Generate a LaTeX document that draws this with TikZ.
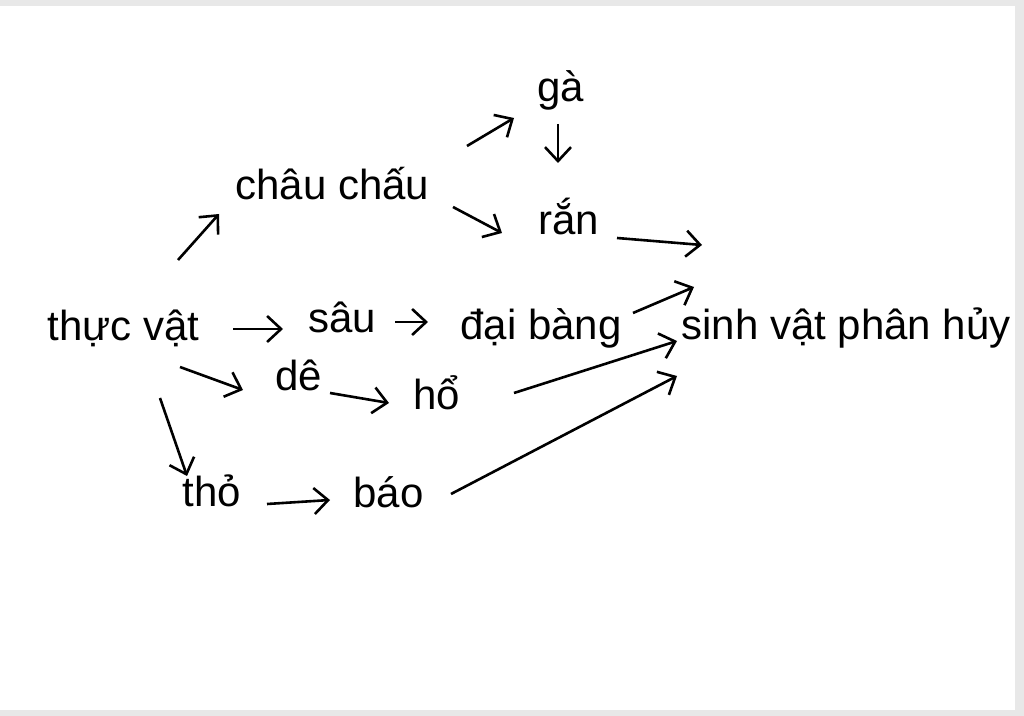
\documentclass[tikz,border=0pt]{standalone}
\usepackage{fontspec}
\setmainfont{Liberation Sans}
\usetikzlibrary{arrows.meta}
\definecolor{framegray}{HTML}{E8E8E8}

\begin{document}
\begin{tikzpicture}[x=0.5pt,y=-0.5pt,
    sp/.style={anchor=base west,inner sep=0pt,font=\fontsize{21}{25}\selectfont},
    arr/.style={line width=1.3pt,-{Straight Barb[length=7pt,width=13pt,line width=1.3pt]}}]
    \useasboundingbox (0,0) rectangle (1024,716);
    \fill[framegray] (0,0) rectangle (1024,6);
    \fill[framegray] (1015,0) rectangle (1024,716);
    \fill[framegray] (0,710) rectangle (1024,716);
    % loai
    \node[sp] (thuc) at (47,341) {thực vật};
    \node[sp] (chau) at (235,200) {châu chấu};
    \node[sp] (ga) at (537,102) {gà};
    \node[sp] (ran) at (538,235) {rắn};
    \node[sp] (sau) at (308,333) {sâu};
    \node[sp] (dai) at (460,340) {đại bàng};
    \node[sp] (svph) at (681,340) {sinh vật phân hủy};
    \node[sp] (de) at (275,391) {dê};
    \node[sp] (ho) at (413,410) {hổ};
    \node[sp] (tho) at (182,507) {thỏ};
    \node[sp] (bao) at (353,508) {báo};
    % mui ten
    \draw[arr] ([shift={(131,-81)}]thuc.base west) -- ([shift={(-16,14)}]chau.base west);
    \draw[arr] ([shift={(232,-54)}]chau.base west) -- ([shift={(-23,16)}]ga.base west);
    \draw[arr] ([shift={(218,7)}]chau.base west) -- ([shift={(-36,-2)}]ran.base west);
    \draw[arr] ([shift={(21,22)}]ga.base west) -- ([shift={(20,-72)}]ran.base west);
    \draw[arr] ([shift={(79,3)}]ran.base west) -- ([shift={(21,-95)}]svph.base west);
    \draw[arr] ([shift={(186,-12)}]thuc.base west) -- ([shift={(-25,-4)}]sau.base west);
    \draw[arr] ([shift={(87,-11)}]sau.base west) -- ([shift={(-32,-18)}]dai.base west);
    \draw[arr] ([shift={(173,-27)}]dai.base west) -- ([shift={(13,-53)}]svph.base west);
    \draw[arr] ([shift={(133,26)}]thuc.base west) -- ([shift={(-32,-1)}]de.base west);
    \draw[arr] ([shift={(55,2)}]de.base west) -- ([shift={(-24,-7)}]ho.base west);
    \draw[arr] ([shift={(101,-17)}]ho.base west) -- ([shift={(-4,1)}]svph.base west);
    \draw[arr] ([shift={(113,57)}]thuc.base west) -- ([shift={(5,-31)}]tho.base west);
    \draw[arr] ([shift={(85,-3)}]tho.base west) -- ([shift={(-23,-8)}]bao.base west);
    \draw[arr] ([shift={(98,-14)}]bao.base west) -- ([shift={(-4,36)}]svph.base west);
\end{tikzpicture}
\end{document}
